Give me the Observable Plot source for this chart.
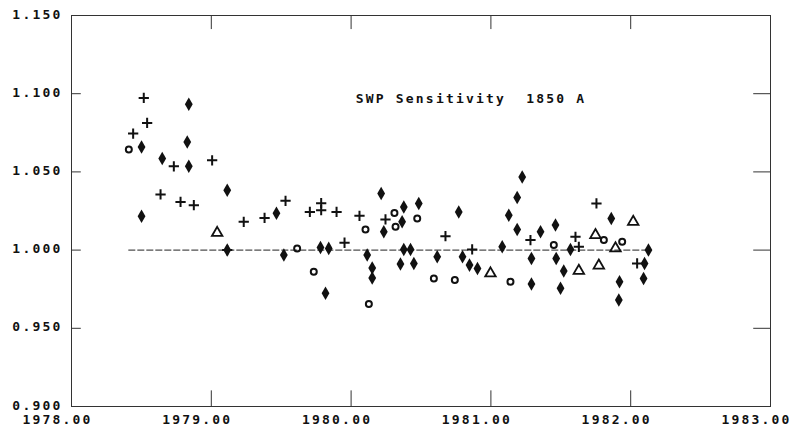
<!DOCTYPE html>
<html>
<head>
<meta charset="utf-8">
<script src="https://cdn.jsdelivr.net/npm/d3@7"></script>
<script src="https://cdn.jsdelivr.net/npm/@observablehq/plot@0.6"></script>
<style>
  html, body { margin: 0; padding: 0; background: #fff; }
  #chart svg text { letter-spacing: 2.2px; font-weight: bold; }
</style>
</head>
<body>
<div id="chart"></div>
<script>
// ---- data ----
const title = "SWP Sensitivity  1850 A";
const xTicks = [1978, 1979, 1980, 1981, 1982, 1983];
const xTickLabels = ["1978.00", "1979.00", "1980.00", "1981.00", "1982.00", "1983.00"];
const yTicks = [0.900, 0.950, 1.000, 1.050, 1.100, 1.150];
const yTickLabels = ["0.900", "0.950", "1.000", "1.050", "1.100", "1.150"];
const refValue = 1.0;
const refStart = 1978.41;
const refEnd = 1982.13;

// plus markers [time, ratio]
const plusPts = [
  [1978.517, 1.0973], [1978.541, 1.0813], [1978.441, 1.0745], [1978.732, 1.0536],
  [1979.006, 1.0574], [1978.637, 1.0356], [1978.780, 1.0308], [1978.875, 1.0287],
  [1979.232, 1.0181], [1979.381, 1.0206], [1979.531, 1.0315], [1979.705, 1.0244],
  [1979.786, 1.0300], [1979.786, 1.0255], [1979.896, 1.0244], [1980.060, 1.0219],
  [1980.246, 1.0196], [1979.953, 1.0047], [1980.675, 1.0089], [1980.866, 1.0004],
  [1981.283, 1.0064], [1981.605, 1.0085], [1981.629, 1.0021], [1981.755, 1.0298],
  [1982.046, 0.9915], [1979.114, 1.0000]
];
// overlapping / filled markers
const blobPts = [
  [1978.839, 1.0932], [1978.501, 1.0659], [1978.828, 1.0691], [1978.649, 1.0585],
  [1978.839, 1.0536], [1979.114, 1.0383], [1978.501, 1.0217], [1979.114, 1.0000],
  [1979.466, 1.0236], [1979.519, 0.9968], [1979.781, 1.0017], [1979.840, 1.0011],
  [1980.115, 0.9968], [1980.151, 0.9885], [1980.151, 0.9821], [1979.817, 0.9724],
  [1980.215, 1.0362], [1980.377, 1.0276], [1980.234, 1.0117], [1980.365, 1.0181],
  [1980.377, 1.0004], [1980.425, 1.0004], [1980.353, 0.9911], [1980.449, 0.9915],
  [1980.484, 1.0298], [1980.770, 1.0244], [1980.616, 0.9957], [1980.797, 0.9957],
  [1980.847, 0.9904], [1980.904, 0.9883], [1981.224, 1.0468], [1981.188, 1.0336],
  [1981.128, 1.0223], [1981.188, 1.0132], [1981.081, 1.0021], [1981.355, 1.0117],
  [1981.462, 1.0160], [1981.290, 0.9947], [1981.467, 0.9947], [1981.290, 0.9783],
  [1981.569, 1.0004], [1981.861, 1.0202], [1981.521, 0.9866], [1981.498, 0.9756],
  [1982.127, 1.0000], [1982.099, 0.9915], [1982.092, 0.9819], [1981.920, 0.9798],
  [1981.915, 0.9681]
];
// open diamond / circle markers
const openPts = [
  [1978.410, 1.0643], [1979.614, 1.0011], [1979.733, 0.9861], [1980.103, 1.0132],
  [1980.310, 1.0238], [1980.318, 1.0149], [1980.473, 1.0202], [1980.592, 0.9819],
  [1980.742, 0.9809], [1981.140, 0.9798], [1981.450, 1.0032], [1981.808, 1.0064],
  [1981.939, 1.0053], [1980.127, 0.9655]
];
// triangle markers
const triPts = [
  [1979.042, 1.0110], [1980.997, 0.9851], [1981.748, 1.0096], [1981.891, 1.0011],
  [1982.018, 1.0181], [1981.629, 0.9868], [1981.772, 0.9901]
];

const ink = "#111";
const inner = xTicks.slice(1, -1);
const innerY = yTicks.slice(1, -1);
const xDom = [xTicks[0], xTicks[xTicks.length - 1]];
const yDom = [yTicks[0], yTicks[yTicks.length - 1]];

const chart = Plot.plot({
  width: 794,
  height: 438,
  marginLeft: 71,
  marginRight: 24,
  marginTop: 15,
  marginBottom: 32,
  x: { domain: xDom, axis: null },
  y: { domain: yDom, axis: null },
  style: { fontFamily: "'DejaVu Sans Mono', monospace", fontSize: "13px", color: ink, background: "#fff", overflow: "visible" },
  marks: [
    Plot.frame({ stroke: "#333", strokeWidth: 1 }),
    // inward ticks top / bottom
    Plot.ruleX(inner, { y1: yDom[1], y2: yDom[1] - 0.009, stroke: "#333" }),
    Plot.ruleX(inner, { y1: yDom[0], y2: yDom[0] + 0.010, stroke: "#333" }),
    // inward ticks left / right
    Plot.ruleY(innerY, { x1: xDom[0], x2: xDom[0] + 0.07, stroke: "#333" }),
    Plot.ruleY(innerY, { x1: xDom[1], x2: xDom[1] - 0.12, stroke: "#333" }),
    // reference line
    Plot.ruleY([refValue], { x1: refStart, x2: refEnd, stroke: "#222", strokeDasharray: "7,2" }),
    // tick labels
    Plot.text(xTicks, { x: d => d, text: (d, i) => xTickLabels[i], frameAnchor: "bottom", dy: 17, dx: -14, fill: ink }),
    Plot.text(yTicks, { y: d => d, text: (d, i) => yTickLabels[i], frameAnchor: "left", textAnchor: "end", dx: -9, dy: -1, fill: ink }),
    // title
    Plot.text([title], { text: d => d, frameAnchor: "top", dy: 78, dx: 50, fill: ink }),
    // data
    Plot.dot(blobPts, { x: d => d[0], y: d => d[1], symbol: "diamond", r: 4.1, fill: ink }),
    Plot.dot(openPts, { x: d => d[0], y: d => d[1], symbol: "circle", r: 3.0, stroke: ink, strokeWidth: 2, fill: "none" }),
    Plot.dot(triPts, { x: d => d[0], y: d => d[1], symbol: "triangle", r: 3.9, stroke: ink, strokeWidth: 1.8, fill: "none" }),
    Plot.dot(plusPts, { x: d => d[0], y: d => d[1], symbol: "plus", r: 3.4, stroke: ink, strokeWidth: 2 })
  ]
});
document.getElementById("chart").appendChild(chart);
</script>
</body>
</html>
